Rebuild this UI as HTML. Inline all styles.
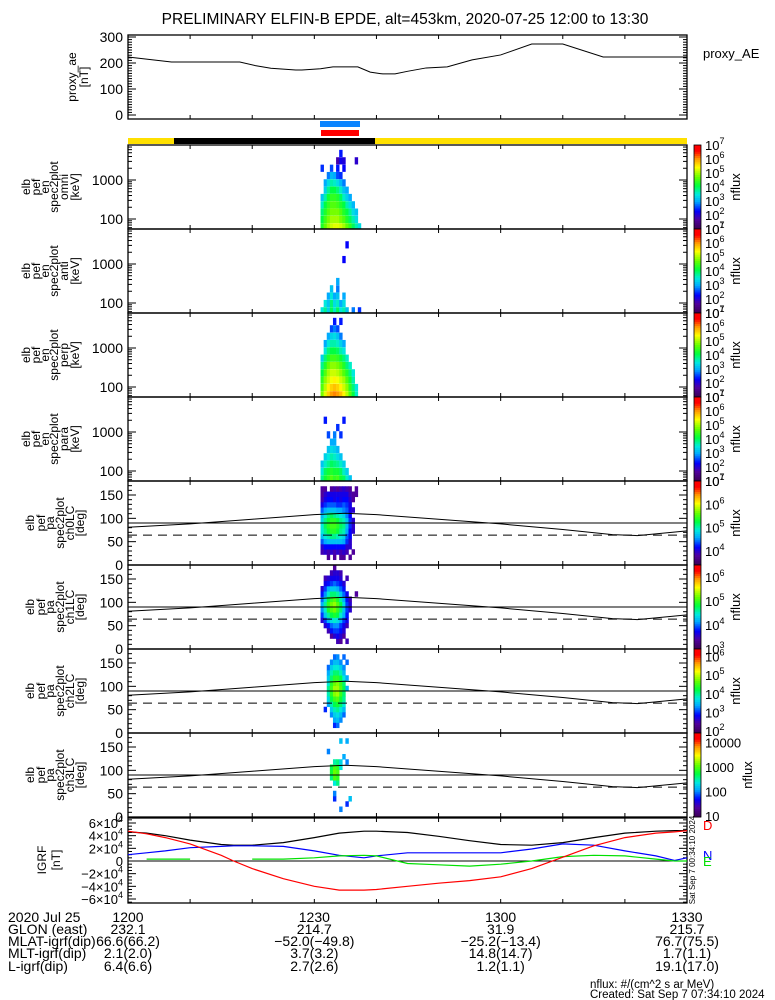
<!DOCTYPE html>
<html><head><meta charset="utf-8">
<style>
html,body{margin:0;padding:0;background:#fff;}
svg{display:block;font-family:"Liberation Sans",sans-serif;}
</style></head>
<body>
<svg id="fig" width="775" height="1000" viewBox="0 0 775 1000" xmlns="http://www.w3.org/2000/svg"></svg>
<script>
// ---------- data ----------
const aeTimes = [0,7,18,20.5,23,27,28,31,33,37,39,41,43,45,48,51.4,55.4,60,65,70,76.5,90];
const aeValues = [223,204,204,190,180,173,173,178,185,185,165,158,158,168,181,185,212,231,273,273,223,223];
const aeTicks = [0,100,200,300];

const energyChannels = [63,97,150,231,356,548,845,1300,2000,3100,4800];
const colStartMinute = 31.0;
const colStepMinute = 0.5;
const omniFlux = [
[4.3,4.7,5,5.2,5.3,5.3,5.2,5,4.7,4.4,4,3.7,3.4],
[4.1,4.5,4.8,5,5,5,4.8,4.6,4.3,4,3.7,3.4,0],
[3.9,4.3,4.6,4.8,4.8,4.8,4.6,4.3,4.1,3.8,3.4,3.2,0],
[3.6,4.1,4.4,4.6,4.6,4.5,4.3,4.1,3.7,3.4,3.1,0,0],
[3.2,3.7,4.2,4.4,4.4,4.3,4,3.6,3.3,3,0,0,0],
[0,3.3,3.8,4.1,4.1,3.9,3.6,3.2,3,0,0,0,0],
[0,3,3.4,3.7,3.6,3.4,3.1,2.8,0,0,0,0,0],
[0,0,2.8,3.1,3,2.6,2.5,0,0,0,0,0,0],
[2.5,0,0,2.6,0,2.4,0,2.3,0,0,0,0,0],
[0,0,0,0,0,1.8,2.2,2.1,0,0,0,2,0],
[0,0,0,0,0,0,2.4,0,0,0,0,0,0]];
const antiFlux = [
[3.5,3.8,3.3,4,3.6,4,3.5,3.7,3.2,0,2.8,0,2.5],
[0,3.5,3.2,3.9,3.4,3.6,3,3.4,0,0,0,0,0],
[0,0,3,3.5,3,3.2,0,3,0,0,0,0,0],
[0,0,0,3.2,0,2.8,0,0,0,0,0,0,0],
[0,0,0,0,0,3,0,0,0,0,0,0,0],
[0,0,0,0,0,0,0,0,0,0,0,0,0],
[0,0,0,0,0,0,0,0,0,0,0,0,0],
[0,0,0,0,0,0,0,2.3,0,0,0,0,0],
[0,0,0,0,0,0,0,0,0,0,0,0,0],
[0,0,0,0,0,0,0,0,2.3,0,0,0,0],
[0,0,0,0,0,0,0,0,0,0,0,0,0]];
const perpFlux = [
[4.8,5.3,5.7,6,6.1,6,5.8,5.5,5.1,4.6,4.1,3.6,0],
[4.6,5.1,5.5,5.7,5.8,5.7,5.5,5.2,4.9,4.4,3.9,3.5,0],
[4.4,4.9,5.2,5.4,5.5,5.4,5.2,5,4.6,4.2,3.7,0,0],
[4.1,4.6,5,5.2,5.2,5.1,4.9,4.6,4.3,3.9,3.5,0,0],
[3.8,4.3,4.7,4.9,4.9,4.8,4.6,4.3,3.9,3.6,0,0,0],
[3.3,3.9,4.3,4.5,4.5,4.4,4.2,3.9,3.6,0,0,0,0],
[0,3.5,3.9,4.1,4.1,4,3.7,3.5,0,0,0,0,0],
[0,3,3.5,3.7,3.7,3.6,3.3,3,0,0,0,0,0],
[0,0,3,3.3,3.4,3.2,2.8,0,0,0,0,0,0],
[0,0,0,2.6,2.8,2.6,0,0,0,0,0,0,0],
[0,0,0,0,2.4,0,2.4,0,0,0,0,0,0]];
const paraFlux = [
[3.8,4.2,4.4,4.6,4.4,4.5,4.2,4,3.6,3.2,0,0,0],
[3.5,4,4.2,4.3,4.2,4.2,4,3.6,3.3,0,0,0,0],
[3.2,3.6,3.8,4,3.9,3.8,3.6,3.3,0,0,0,0,0],
[0,3.3,3.5,3.7,3.6,3.4,3.2,0,0,0,0,0,0],
[0,0,3.2,3.4,3.3,3.1,0,0,0,0,0,0,0],
[0,0,0,3,3,0,0,0,0,0,0,0,0],
[0,0,2.6,0,2.8,0,2.5,0,0,0,0,0,0],
[0,0,0,0,0,2.5,0,0,0,0,0,0,0],
[0,2.4,0,0,0,0,0,2.4,0,0,0,0,0],
[0,0,0,0,0,0,0,0,0,0,0,0,0],
[0,0,0,0,0,0,0,0,0,0,0,0,0]];

const paBinWidth = 11.25;
const ch0Flux = [
[0,0,0,0,0,0,0,0,0,0,0,0],
[0,0,3.8,0,3.8,0,3.8,3.8,0,3.8,0,0],
[3.9,4,3.9,4,3.9,4,3.9,4,3.9,0,3.8,0],
[4,4.2,4.2,4.2,4.2,4.2,4.2,4.2,4,4,0,0],
[4.4,4.6,4.7,4.7,4.7,4.7,4.7,4.6,4.3,4,0,0],
[4.7,4.9,5,5.1,5.1,5,4.9,4.8,4.4,4.2,0,0],
[4.9,5.1,5.3,5.4,5.4,5.3,5.1,5,4.6,4.2,4,0],
[4.9,5.2,5.4,5.5,5.5,5.4,5.2,5.1,4.7,4.3,4,0],
[4.8,5.1,5.3,5.4,5.4,5.3,5.1,5,4.7,4.3,4,0],
[4.7,4.9,5.1,5.2,5.1,5,4.9,4.8,4.5,4.2,0,0],
[4.4,4.6,4.7,4.7,4.7,4.6,4.6,4.5,4.4,4.1,4,0],
[4.1,4.3,4.4,4.4,4.4,4.3,4.3,4.4,4.3,4.1,0,0],
[3.9,4.1,4.2,4.2,4.1,4.2,4.1,4.2,4.2,4,3.8,0],
[3.8,4,4.1,4.1,4.1,4.1,4.1,4.1,4.1,3.9,3.8,3.8],
[3.8,3.8,0,3.8,3.9,3.8,3.9,4,3.9,3.8,0,3.8],
[0,0,0,0,0,0,0,0,0,0,0,0]];
const ch1Flux = [
[0,0,0,0,0,0,0,0,0,0,0,0],
[0,0,0,0,0,3.5,3.4,0,3.5,0,0,0],
[0,0,0,3.4,3.6,3.7,3.6,3.4,0,0,0,0],
[0,0,3.5,3.8,3.9,3.9,3.8,3.6,0,0,0,0],
[0,3.6,3.8,4,4.1,4.1,3.9,3.7,3.5,0,0,0],
[3.6,3.9,4.2,4.4,4.5,4.4,4.2,3.9,3.7,0,0,0],
[3.9,4.3,4.6,4.8,4.9,4.8,4.5,4.2,3.8,0,0,0],
[4.1,4.5,4.9,5.1,5.2,5,4.7,4.3,3.9,3.6,0,0],
[4.2,4.6,5,5.2,5.3,5.1,4.8,4.4,3.9,3.6,0,0],
[4,4.4,4.8,5,5.1,4.9,4.6,4.2,3.8,3.5,0,0],
[3.8,4.1,4.5,4.7,4.7,4.6,4.3,4,3.7,0,0,3.4],
[3.6,3.9,4.2,4.3,4.3,4.2,4,3.8,0,0,0,0],
[0,3.7,3.8,3.9,4,3.9,3.8,3.6,0,0,0,0],
[0,3.5,3.6,3.7,3.7,3.7,3.6,0,3.5,0,0,0],
[0,0,0,3.5,3.6,3.6,3.5,0,0,0,0,0],
[0,0,0,0,3.4,0,0,0,0,0,0,0]];
const ch2Flux = [
[0,0,0,0,0,0,0,0,0,0,0,0],
[0,0,0,0,3,3.2,0,0,0,0,0,0],
[0,0,0,0,3.4,3.5,3.3,0,0,0,0,0],
[0,0,0,3.3,3.6,3.7,3.5,3.2,0,0,0,0],
[0,3,0,3.6,3.9,4,3.8,3.5,0,0,0,0],
[0,0,3.4,3.9,4.2,4.3,4.1,3.8,0,0,0,0],
[0,0,3.7,4.2,4.5,4.6,4.3,4,0,0,0,0],
[0,0,3.9,4.4,4.8,4.9,4.5,4.1,0,0,0,0],
[0,0,4,4.5,4.9,4.9,4.6,4.2,3.5,0,0,0],
[0,0,3.8,4.4,4.7,4.8,4.5,4.1,0,0,0,0],
[0,0,3.6,4.1,4.4,4.4,4.2,3.8,3.4,0,0,0],
[0,0,3.4,3.9,4.1,4.1,3.9,3.5,0,0,0,0],
[0,0,3.2,3.6,3.8,3.8,3.6,3.3,0,0,0,0],
[0,0,0,3.3,3.5,3.5,3.3,0,3.2,0,0,0],
[0,0,0,0,3.2,3.3,0,3.2,0,0,0,0],
[0,0,0,0,0,0,0,0,0,0,0,0]];
const ch3Flux = [
[0,0,0,0,0,0,0,0,0,0,0,0],
[0,0,0,0,0,0,2,0,0,0,0,0],
[0,0,0,0,0,0,0,0,1.8,0,0,0],
[0,0,0,0,1.8,0,0,0,0,2.2,0,0],
[0,0,0,0,2,0,0,0,0,0,0,0],
[0,0,0,0,0,0,0,0,0,0,0,0],
[0,0,0,0,2.4,2.6,0,0,0,0,0,0],
[0,0,0,2.6,3,2.9,0,0,0,0,0,0],
[0,0,0,2.8,3.1,3,0,0,0,0,0,0],
[0,0,0,2.7,3,2.9,2.4,0,0,0,0,0],
[0,0,0,0,2.5,2.6,2.3,0,2,0,0,0],
[0,0,0,0,0,0,0,2.1,0,0,0,0],
[0,0,2,0,0,0,0,0,0,0,0,0],
[0,0,0,0,0,0,0,0,0,0,0,0],
[0,0,0,0,0,0,2.2,0,2.1,0,0,0],
[0,0,0,0,0,0,0,0,0,0,0,0]];

const lcTimes = [0,10,20,30,35,40,50,60,70,78,82,90];
const lcValues = [81,88,98,108,111,108,98,88,76,65,63,73];
const antiLcValue = 64;

const igrfTimes = [0,3,6,10,15,17,20,25,30,34,38,40,45,50,55,60,65,70,75,80,85,88,90];
const igrfTotal = [46,44,40,33,26,25,25,29,37,44,47,47,45,39,32,26,25,29,37,44,47,48,48];
const igrfD = [47,43,37,27,9,0,-12,-28,-40,-46,-46,-45,-40,-35,-31,-25,-12,6,24,37,44,46,48];
const igrfN = [10,13,16,21,23,24,24,23,16,9,5,8,13,13,13,13,19,27,25,16,8,1,5];
const igrfE = [null,3,3,3,null,null,3,3,5,8,9,8,-4,-6,-8,-5,0,7,9,8,3,0,0];
const igrfTicks = [-6,-4,-2,0,2,4,6];

const timeTickLabels = ["1200","1230","1300","1330"];
const infoLabels = ["2020 Jul 25","GLON (east)","MLAT-igrf(dip)","MLT-igrf(dip)","L-igrf(dip)"];
const infoValues = [
 ["232.1","214.7","31.9","215.7"],
 ["66.6(66.2)","-52.0(-49.8)","-25.2(-13.4)","76.7(75.5)"],
 ["2.1(2.0)","3.7(3.2)","14.8(14.7)","1.7(1.1)"],
 ["6.4(6.6)","2.7(2.6)","1.2(1.1)","19.1(17.0)"]];

// ---------- helpers ----------
const svg = document.getElementById('fig');
const NS = 'http://www.w3.org/2000/svg';
const X0 = 128, X1 = 687, TMAX = 90;
function xT(t){ return X0 + t/TMAX*(X1-X0); }
function mk(tag, attrs, parent){
  const e = document.createElementNS(NS, tag);
  for (const k in attrs) e.setAttribute(k, attrs[k]);
  (parent||svg).appendChild(e);
  return e;
}
function txt(s, x, y, size, anchor, parent, color){
  const e = mk('text', {x:x, y:y, 'font-size':size, 'text-anchor':anchor||'start', fill:color||'#000'}, parent);
  e.textContent = s;
  return e;
}
const cmapStops = [[0,[60,0,80]],[0.12,[80,0,160]],[0.22,[0,0,255]],[0.33,[0,170,255]],[0.42,[0,235,220]],[0.52,[0,255,60]],[0.62,[100,255,0]],[0.74,[255,255,0]],[0.84,[255,150,0]],[0.93,[255,0,0]],[1,[255,0,0]]];
function cmap(f){
  f = Math.max(0, Math.min(1, f));
  for (let i=1;i<cmapStops.length;i++){
    if (f <= cmapStops[i][0]){
      const a = cmapStops[i-1], b = cmapStops[i];
      const u = (f-a[0])/(b[0]-a[0]);
      const c = a[1].map((v,j)=>Math.round(v+(b[1][j]-v)*u));
      return 'rgb('+c.join(',')+')';
    }
  }
  return 'rgb(255,0,0)';
}
function xTicks(g, top, bot){
  for (let t=10; t<TMAX; t+=10){
    const x = xT(t);
    mk('line',{x1:x,y1:bot,x2:x,y2:bot-4,stroke:'#000','stroke-width':1},g);
    mk('line',{x1:x,y1:top,x2:x,y2:top+4,stroke:'#000','stroke-width':1},g);
  }
}
function frame(g, top, bot){
  mk('rect',{x:X0,y:top,width:X1-X0,height:bot-top,fill:'none',stroke:'#000','stroke-width':1.3},g);
  xTicks(g, top, bot);
}
function yTick(g, y, len){
  mk('line',{x1:X0,y1:y,x2:X0+len,y2:y,stroke:'#000','stroke-width':1},g);
  mk('line',{x1:X1,y1:y,x2:X1-len,y2:y,stroke:'#000','stroke-width':1},g);
}
function sideLabel(g, lines, cx, cy, xs){
  lines.forEach((s,i)=>{
    const t = mk('text',{x:0,y:0,'font-size':12,'text-anchor':'middle',transform:'translate('+xs[i]+','+cy+') rotate(-90)'},g);
    t.textContent = s;
  });
}
function colorbar(g, top, bot, vmin, vmax, labels){
  const n = 40;
  for (let i=0;i<n;i++){
    const y = bot - (i+1)*(bot-top)/n;
    mk('rect',{x:694,y:y,width:7,height:(bot-top)/n+0.5,fill:cmap((i+0.5)/n)},g);
  }
  mk('rect',{x:694,y:top,width:7,height:bot-top,fill:'none',stroke:'#000','stroke-width':0.8},g);
  labels.forEach(L=>{
    const y = bot - (L.v - vmin)/(vmax-vmin)*(bot-top);
    const t = mk('text',{x:705,y:y+5,'font-size':13},g);
    if (L.sup){ t.textContent='10'; const s=mk('tspan',{dy:-6,'font-size':9},t); s.textContent=L.sup; }
    else t.textContent = L.text;
  });
  const nx = labels.length && !labels[0].sup ? 752 : 740;
  const tl = mk('text',{x:0,y:0,'font-size':13,'text-anchor':'middle',transform:'translate('+nx+','+((top+bot)/2)+') rotate(-90)'},g);
  tl.textContent='nflux';
}

// ---------- title ----------
const title = txt('PRELIMINARY ELFIN-B EPDE, alt=453km, 2020-07-25 12:00 to 13:30', 405, 24, 15.5, 'middle');



// ---------- proxy AE ----------
(function(){
  const g = mk('g',{});
  
  
  const top=35, bot=119;
  const yV = v => 115 - v*0.26;
  for (let v=0; v<=300; v+=10) yTick(g, yV(v), v%100===0?8:4);
  frame(g, top, bot);
  aeTicks.forEach(v=>txt(String(v), 123, yV(v)+5, 14, 'end', g));
  const pts = aeTimes.map((t,i)=>xT(t)+','+yV(aeValues[i])).join(' ');
  const line = mk('polyline',{points:pts,fill:'none',stroke:'#000','stroke-width':1},g);
  
  
  sideLabel(g, ['proxy_ae','[nT]'], 0, 77, [76,88]);
  txt('proxy_AE', 703, 58, 13, 'start', g);
})();

// ---------- bars ----------
(function(){
  const g = mk('g',{});
  
  
  mk('rect',{x:320,y:121,width:40,height:6,fill:'#0a84ff'},g);
  mk('rect',{x:321,y:130,width:38,height:6,fill:'#ff0000'},g);
  mk('rect',{x:X0,y:138,width:X1-X0,height:6,fill:'#ffe000'},g);
  mk('rect',{x:174,y:138,width:201,height:6,fill:'#000'},g);
})();

// ---------- energy spectrograms ----------
const enPanels = [
 {name:'omni',flux:omniFlux,top:145},
 {name:'anti',flux:antiFlux,top:229},
 {name:'perp',flux:perpFlux,top:313},
 {name:'para',flux:paraFlux,top:397}];
const colW = xT(colStepMinute)-xT(0);
enPanels.forEach(P=>{
  const g = mk('g',{});
  
  
  const top=P.top, bot=top+84;
  const yE = e => top + 74 - (Math.log10(e)-2)*39;
  const half = 0.0925;
  P.flux.forEach((row,ri)=>{
    const e = energyChannels[ri];
    const y1 = top + 74 - (Math.log10(e)+half-2)*39, y2 = top + 74 - (Math.log10(e)-half-2)*39;
    row.forEach((v,ci)=>{
      if (!v) return;
      const yy1=Math.max(y1,top), yy2=Math.min(y2,bot);
      if (yy2<=yy1) return;
      const c = mk('rect',{x:xT(colStartMinute+ci*colStepMinute),y:yy1,width:colW+0.3,height:yy2-yy1,fill:cmap((v-1)/6)},g);
      
      
    });
  });
  [10,100,1000,10000].forEach(d=>{
    for (let m=1;m<10;m++){
      const y=yE(d*m); if (y<top||y>bot) continue;
      yTick(g, y, m===1?8:4);
    }
  });
  frame(g, top, bot);
  txt('1000', 123, yE(1000)+5, 14, 'end', g);
  txt('100', 123, yE(100)+5, 14, 'end', g);
  sideLabel(g, ['elb','pef','en','spec2plot',P.name,'[keV]'], 0, top+42, [30,40,49,58,68,79]);
  colorbar(g, top, bot, 1, 7, [7,6,5,4,3,2,1].map(v=>({v:v,sup:String(v)})));
});

// ---------- pitch-angle spectrograms ----------
const paPanels = [
 {name:'ch0LC',flux:ch0Flux,top:481,vmin:3.4,vmax:7,labels:[4,5,6,7].map(v=>({v:v,sup:String(v)}))},
 {name:'ch1LC',flux:ch1Flux,top:565,vmin:3.0,vmax:6.5,labels:[3,4,5,6].map(v=>({v:v,sup:String(v)}))},
 {name:'ch2LC',flux:ch2Flux,top:649,vmin:1.9,vmax:6.4,labels:[2,3,4,5,6].map(v=>({v:v,sup:String(v)}))},
 {name:'ch3LC',flux:ch3Flux,top:733,vmin:0.95,vmax:4.4,labels:[{v:1,text:'10'},{v:2,text:'100'},{v:3,text:'1000'},{v:4,text:'10000'}]}];
paPanels.forEach(P=>{
  const g = mk('g',{});
  
  
  const top=P.top, bot=top+84;
  const yP = d => bot - d/180*84;
  P.flux.forEach((row,ri)=>{
    row.forEach((v,ci)=>{
      if (!v) return;
      const c = mk('rect',{x:xT(colStartMinute+ci*colStepMinute),y:yP((ri+1)*paBinWidth),width:colW+0.3,height:paBinWidth/180*84+0.3,fill:cmap((v-P.vmin)/(P.vmax-P.vmin))},g);
      
      
    });
  });
  for (let d=0; d<=180; d+=10) yTick(g, yP(d), d%50===0?8:4);
  frame(g, top, bot);
  [0,50,100,150].forEach(d=>txt(String(d), 123, yP(d)+5, 14, 'end', g));
  const lc = mk('polyline',{points:lcTimes.map((t,i)=>xT(t)+','+yP(lcValues[i])).join(' '),fill:'none',stroke:'#000','stroke-width':1},g);
  
  
  mk('line',{x1:X0,y1:yP(90),x2:X1,y2:yP(90),stroke:'#000','stroke-width':1},g);
  const al = mk('line',{x1:X0,y1:yP(antiLcValue),x2:X1,y2:yP(antiLcValue),stroke:'#000','stroke-width':1,'stroke-dasharray':'9,6'},g);
  
  
  sideLabel(g, ['elb','pef','pa','spec2plot',P.name,'[deg]'], 0, top+42, [34,45,54,64,74,84]);
  colorbar(g, top, bot, P.vmin, P.vmax, P.labels);
});

// ---------- IGRF ----------
(function(){
  const g = mk('g',{});
  
  
  const top=818, bot=903;
  const yV = v => 861 - v*38/60;
  for (let v=-65; v<=65; v+=5) yTick(g, yV(v), v%20===0?8:4);
  frame(g, top, bot);
  mk('line',{x1:X0,y1:yV(0),x2:X1,y2:yV(0),stroke:'#000','stroke-width':1},g);
  igrfTicks.forEach(v=>{
    const t = mk('text',{x:123,y:yV(v*10)+5,'font-size':13,'text-anchor':'end'},g);
    if (v===0){ t.textContent='0'; return; }
    t.textContent = (v<0?'\u2212':'')+Math.abs(v)+'\u00d710';
    const s = mk('tspan',{dy:-6,'font-size':9},t); s.textContent='4';
  });
  function series(vals, color, nm){
    let d='', pen=false;
    igrfTimes.forEach((t,i)=>{
      const v = vals[i];
      if (v===null){ pen=false; return; }
      d += (pen?'L':'M')+xT(t).toFixed(1)+','+yV(v).toFixed(1)+' ';
      pen=true;
    });
    const p = mk('path',{d:d,fill:'none',stroke:color,'stroke-width':1.2},g);
    
    
  }
  series(igrfTotal,'#000','igrf-total-line');
  series(igrfN,'#0000ff','igrf-n-line');
  series(igrfE,'#00e000','igrf-e-line');
  series(igrfD,'#ff0000','igrf-d-line');
  sideLabel(g, ['IGRF','[nT]'], 0, 860, [46,60]);
  txt('D', 703, 830, 13, 'start', g, '#ff0000');
  txt('N', 703, 860, 13, 'start', g, '#0000ff');
  txt('E', 703, 866, 13, 'start', g, '#00e000');
  const st = mk('text',{x:0,y:0,'font-size':8,'text-anchor':'middle',transform:'translate(695,860) rotate(-90)'},g);
  st.textContent='Sat Sep  7 00:34:10 2024';
})();

// ---------- info rows ----------
(function(){
  const g = mk('g',{});
  
  
  const cols = [0,30,60,90].map(t=>xT(t));
  const rowY = [922,934,946,958,971];
  infoLabels.forEach((s,i)=>txt(s, 8, rowY[i], 14, 'start', g));
  timeTickLabels.forEach((s,j)=>txt(s, cols[j], rowY[0], 14, 'middle', g));
  infoValues.forEach((row,i)=>row.forEach((s,j)=>txt(s.replace(/-/g,'\u2212'), cols[j], rowY[i+1], 14, 'middle', g)));
  txt('nflux: #/(cm^2 s ar MeV)', 590, 988, 11.5, 'start', g);
  txt('Created: Sat Sep  7 07:34:10 2024', 590, 998, 11.5, 'start', g);
})();
</script>
</body></html>
